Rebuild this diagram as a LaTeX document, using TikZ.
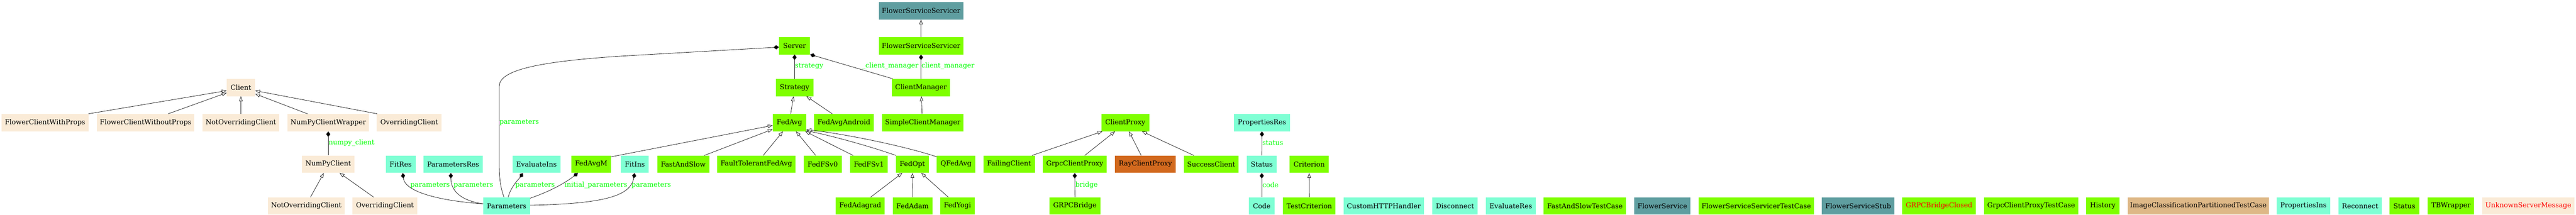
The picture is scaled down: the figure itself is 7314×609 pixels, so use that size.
\documentclass[tikz,border=0pt]{standalone}
\usepackage{fontspec}
\newfontfamily\dvs{DejaVu Serif}
\usetikzlibrary{arrows.meta}
\definecolor{antique}{HTML}{FAEBD7}
\definecolor{aqua}{HTML}{7FFFD4}
\definecolor{chart}{HTML}{7FFF00}
\definecolor{cadet}{HTML}{5F9EA0}
\definecolor{choc}{HTML}{D2691E}
\definecolor{burly}{HTML}{DEB887}
\definecolor{lblgreen}{HTML}{00FF00}
\definecolor{redtxt}{HTML}{FF0000}
\tikzset{
  cls/.style={rectangle, inner sep=0pt, minimum height=49.4pt, font={\dvs\fontsize{19.2}{23}\selectfont}},
  cA/.style={cls, fill=antique},
  cQ/.style={cls, fill=aqua},
  cG/.style={cls, fill=chart},
  cT/.style={cls, fill=cadet},
  cO/.style={cls, fill=choc},
  cB/.style={cls, fill=burly},
  lbl/.style={text=lblgreen, inner sep=0pt, anchor=west, font={\dvs\fontsize{19.2}{23}\selectfont}},
  edge/.style={line width=1.2pt, draw=black!85},
  comp/.style={edge, -{Diamond[length=16pt,width=12pt,fill=black]}},
  inh/.style={edge, -{Triangle[open,length=14pt,width=10pt,fill=white]}}
}
\begin{document}
\begin{tikzpicture}[x=1pt,y=-1pt]
\useasboundingbox[fill=white] (0,0) rectangle (7314,609);
% row 0
\node[cT, minimum width=240pt] (FSSbase) at (2615,30.2) {FlowerServiceServicer};
% row 1
\node[cG, minimum width=88pt] (Server) at (2256,129.7) {Server};
\node[cG, minimum width=240pt] (FSS) at (2615,129.7) {FlowerServiceServicer};
% row 2
\node[cA, minimum width=80pt] (Client) at (684,248.2) {Client};
\node[cG, minimum width=107pt] (Strategy) at (2256,248.2) {Strategy};
\node[cG, minimum width=165pt] (ClientManager) at (2615,248.2) {ClientManager};
% row 3
\node[cA, minimum width=246pt] (FCWP) at (128,347.8) {FlowerClientWithProps};
\node[cA, minimum width=277pt] (FCWoP) at (413.5,347.8) {FlowerClientWithoutProps};
\node[cA, minimum width=218pt] (NOC1) at (684,347.8) {NotOverridingClient};
\node[cA, minimum width=232pt] (NPCW) at (932,347.8) {NumPyClientWrapper};
\node[cA, minimum width=184pt] (OC1) at (1162,347.8) {OverridingClient};
\node[cG, minimum width=95pt] (FedAvg) at (2241.5,347.8) {FedAvg};
\node[cG, minimum width=170pt] (FedAvgAndroid) at (2396,347.8) {FedAvgAndroid};
\node[cG, minimum width=232pt] (SimpleClientManager) at (2620,347.8) {SimpleClientManager};
\node[cG, minimum width=136pt] (ClientProxy) at (3195,347.8) {ClientProxy};
\node[cQ, minimum width=159pt] (PropertiesRes) at (3583,347.8) {PropertiesRes};
% row 4
\node[cA, minimum width=150pt] (NumPyClient) at (932,465.8) {NumPyClient};
\node[cQ, minimum width=85pt] (FitRes) at (1137.5,465.8) {FitRes};
\node[cQ, minimum width=167pt] (ParametersRes) at (1286.5,465.8) {ParametersRes};
\node[cQ, minimum width=136pt] (EvaluateIns) at (1523,465.8) {EvaluateIns};
\node[cG, minimum width=113pt] (FedAvgM) at (1678.5,465.8) {FedAvgM};
\node[cQ, minimum width=79pt] (FitIns) at (1802.5,465.8) {FitIns};
\node[cG, minimum width=148pt] (FastAndSlow) at (1940,465.8) {FastAndSlow};
\node[cG, minimum width=223pt] (FaultTolerantFedAvg) at (2147.5,465.8) {FaultTolerantFedAvg};
\node[cG, minimum width=108pt] (FedFSvZero) at (2336,465.8) {FedFSv0};
\node[cG, minimum width=108pt] (FedFSvOne) at (2467,465.8) {FedFSv1};
\node[cG, minimum width=93pt] (FedOpt) at (2590.5,465.8) {FedOpt};
\node[cG, minimum width=109pt] (QFedAvg) at (2714.5,465.8) {QFedAvg};
\node[cG, minimum width=146pt] (FailingClient) at (2865,465.8) {FailingClient};
\node[cG, minimum width=181pt] (GrpcClientProxy) at (3051.5,465.8) {GrpcClientProxy};
\node[cO, minimum width=172pt] (RayClientProxy) at (3252,465.8) {RayClientProxy};
\node[cG, minimum width=156pt] (SuccessClient) at (3439,465.8) {SuccessClient};
\node[cQ, minimum width=85pt] (StatusA) at (3582.5,465.8) {Status};
\node[cG, minimum width=110pt] (Criterion) at (3717,465.8) {Criterion};
% row 5
\node[cA, minimum width=219pt] (NOC2) at (869.5,584.3) {NotOverridingClient};
\node[cA, minimum width=184pt] (OC2) at (1093,584.3) {OverridingClient};
\node[cQ, minimum width=133pt] (Parameters) at (1438.5,584.3) {Parameters};
\node[cG, minimum width=139pt] (FedAdagrad) at (2442.5,584.3) {FedAdagrad};
\node[cG, minimum width=112pt] (FedAdam) at (2591,584.3) {FedAdam};
\node[cG, minimum width=99pt] (FedYogi) at (2718.5,584.3) {FedYogi};
\node[cG, minimum width=144pt] (GRPCBridge) at (3052,584.3) {GRPCBridge};
\node[cQ, minimum width=73pt] (Code) at (3582.5,584.3) {Code};
\node[cG, minimum width=149pt] (TestCriterion) at (3717.5,584.3) {TestCriterion};
\node[cQ, minimum width=228pt] (CustomHTTPHandler) at (3929,584.3) {CustomHTTPHandler};
\node[cQ, minimum width=128pt] (Disconnect) at (4131,584.3) {Disconnect};
\node[cQ, minimum width=143pt] (EvaluateRes) at (4289.5,584.3) {EvaluateRes};
\node[cG, minimum width=234pt] (FastAndSlowTestCase) at (4500,584.3) {FastAndSlowTestCase};
\node[cT, minimum width=160pt] (FlowerService) at (4720,584.3) {FlowerService};
\node[cG, minimum width=327pt] (FSSTestCase) at (4986.5,584.3) {FlowerServiceServicerTestCase};
\node[cT, minimum width=206pt] (FlowerServiceStub) at (5276,584.3) {FlowerServiceStub};
\node[cG, minimum width=209pt, text=redtxt] (GRPCBridgeClosed) at (5505.5,584.3) {GRPCBridgeClosed};
\node[cG, minimum width=268pt] (GCPTestCase) at (5767,584.3) {GrpcClientProxyTestCase};
\node[cG, minimum width=95pt] (History) at (5970.5,584.3) {History};
\node[cB, minimum width=401pt] (ICPTC) at (6241.5,584.3) {ImageClassificationPartitionedTestCase};
\node[cQ, minimum width=152pt] (PropertiesIns) at (6540,584.3) {PropertiesIns};
\node[cQ, minimum width=124pt] (Reconnect) at (6701,584.3) {Reconnect};
\node[cG, minimum width=85pt] (StatusB) at (6826.5,584.3) {Status};
\node[cG, minimum width=132pt] (TBWrapper) at (6959,584.3) {TBWrapper};
\node[cA, minimum width=261pt, text=redtxt] (USM) at (7178.5,584.3) {UnknownServerMessage};

% labels
\node[lbl] (lStrategy) at (2257,188) {strategy};
\node[lbl, anchor=east] (lCMa) at (2608,188) {\_client\_manager};
\node[lbl] (lCMb) at (2616,188) {client\_manager};
\node[lbl] (lNumpy) at (933,405.5) {numpy\_client};
\node[lbl] (lServerParams) at (1418,347.5) {parameters};
\node[lbl] (lFitRes) at (1165,525) {parameters};
\node[lbl] (lParamsRes) at (1288,525) {parameters};
\node[lbl] (lEvalIns) at (1463,525) {parameters};
\node[lbl] (lInit) at (1603,525) {initial\_parameters};
\node[lbl] (lFitIns) at (1793,525) {parameters};
\node[lbl] (lBridge) at (3053,525) {bridge};
\node[lbl] (lStatus) at (3584,405.5) {status};
\node[lbl] (lCode) at (3584,525) {code};

% Client inheritance
\draw[inh] (FCWP.north east) -- ([yshift=-9]Client.west);
\draw[inh] ([xshift=64]FCWoP.north) -- ([yshift=-15]Client.west);
\draw[inh] (NOC1.north) -- (Client.south);
\draw[inh] ([xshift=-59]NPCW.north) -- ([yshift=-18]Client.east);
\draw[inh] ([xshift=-91]OC1.north) -- ([yshift=-9]Client.east);
% NumPyClient
\draw[comp] (NumPyClient.north) -- (NPCW.south);
\draw[inh] ([xshift=12]NOC2.north) -- ([xshift=-12.5]NumPyClient.south);
\draw[inh] ([xshift=-32]OC2.north) -- ([xshift=32]NumPyClient.south);
% Parameters
\draw[comp] ([yshift=6]Parameters.west) .. controls (1250,570) and (1150,545) .. ([xshift=6]FitRes.south);
\draw[comp] ([yshift=6]Parameters.west) .. controls (1300,568) and (1280,535) .. ([xshift=-6.5]ParametersRes.south);
\draw[comp] ([xshift=-7.5]Parameters.north) .. controls (1420,530) and (1417.5,500) .. (1417.5,470) -- (1417.5,245) .. controls (1417.5,200) and (1520,172) .. (1820,156) -- ([yshift=-4]Server.west);
\draw[comp] ([xshift=4.5]Parameters.north) .. controls (1450,530) and (1474,507) .. ([xshift=-38]EvaluateIns.south);
\draw[comp] ([yshift=-3]Parameters.north east) .. controls (1570,540) and (1610,515) .. ([xshift=-37.5]FedAvgM.south);
\draw[comp] ([yshift=2]Parameters.east) .. controls (1720,578) and (1790,555) .. ([xshift=-0.5]FitIns.south);
% Server
\draw[comp] (Strategy.north) -- (Server.south);
\draw[comp] ([xshift=-80.5]ClientManager.north) -- (Server.south east);
\draw[comp] (ClientManager.north) -- (FSS.south);
\draw[inh] (FSS.north) -- (FSSbase.south);
\draw[inh] ([xshift=-2]SimpleClientManager.north) -- ([xshift=1]ClientManager.south);
% Strategy
\draw[inh] ([xshift=3.5]FedAvg.north) -- ([xshift=-3]Strategy.south);
\draw[inh] ([xshift=-33]FedAvgAndroid.north) -- ([xshift=33.5]Strategy.south);
% FedAvg
\draw[inh] ([yshift=-4]FedAvgM.north east) -- ([yshift=-8]FedAvg.west);
\draw[inh] ([xshift=60]FastAndSlow.north) -- ([yshift=6]FedAvg.south west);
\draw[inh] ([xshift=19.5]FaultTolerantFedAvg.north) -- ([xshift=-18.5]FedAvg.south);
\draw[inh] ([xshift=-20]FedFSvZero.north) -- ([xshift=18.5]FedAvg.south);
\draw[inh] ([xshift=-45]FedFSvOne.north) -- ([xshift=-3]FedAvg.south east);
\draw[inh] ([xshift=-47]FedOpt.north) .. controls (2470,415) and (2360,385) .. ([yshift=2]FedAvg.south east);
\draw[inh] ([yshift=-4]QFedAvg.north west) .. controls (2570,415) and (2400,380) .. ([yshift=5]FedAvg.south east);
% FedOpt
\draw[inh] ([xshift=29.5]FedAdagrad.north) -- ([xshift=-28.5]FedOpt.south);
\draw[inh] (FedAdam.north) -- (FedOpt.south);
\draw[inh] ([xshift=-26]FedYogi.north) -- ([xshift=25]FedOpt.south);
% ClientProxy
\draw[inh] ([xshift=65.5]FailingClient.north) -- ([xshift=3.5]ClientProxy.south west);
\draw[inh] ([xshift=28.5]GrpcClientProxy.north) -- ([xshift=-29]ClientProxy.south);
\draw[inh] ([xshift=-12]RayClientProxy.north) -- ([xshift=10.5]ClientProxy.south);
\draw[inh] ([xshift=-49.5]SuccessClient.north) -- ([xshift=47]ClientProxy.south);
\draw[comp] (GRPCBridge.north) -- (GrpcClientProxy.south);
% Status / Code / Criterion
\draw[comp] (StatusA.north) -- (PropertiesRes.south);
\draw[comp] (Code.north) -- (StatusA.south);
\draw[inh] (TestCriterion.north) -- (Criterion.south);
\end{tikzpicture}
\end{document}
